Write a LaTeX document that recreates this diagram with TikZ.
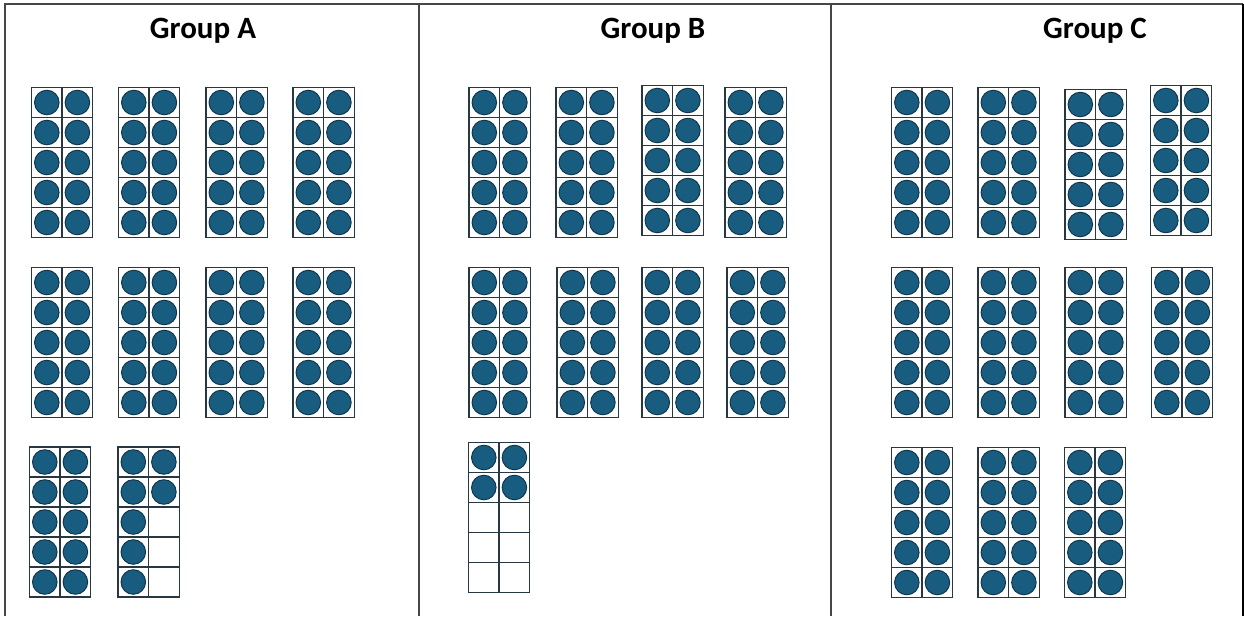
\documentclass[tikz,border=0pt]{standalone}
\usepackage{fontspec}
\setmainfont{Carlito}
\definecolor{dotfill}{RGB}{24,92,128}
\definecolor{dotline}{RGB}{14,50,70}
\definecolor{gridline}{RGB}{40,56,66}
\definecolor{panelline}{RGB}{70,70,70}
\tikzset{
  dot/.style={fill=dotfill,draw=dotline,line width=0.9pt},
  framebox/.style={draw=gridline,line width=1.3pt},
  panel/.style={draw=panelline,line width=2pt},
  title/.style={font=\bfseries\fontsize{31}{35}\selectfont,anchor=base}
}
\def\full{1/1,1/2,2/1,2/2,3/1,3/2,4/1,4/2,5/1,5/2}
\def\seven{1/1,1/2,2/1,2/2,3/1,4/1,5/1}
\def\four{1/1,1/2,2/1,2/2}
\newcommand\tenframe[3]{%
  \begin{scope}[shift={(#1,#2)}]
    \foreach \r/\c in #3 {\path[dot] (\c*30.6-15.3,\r*30-15) circle (12.3);}
    \path[framebox] (0,0) rectangle (61.2,150);
    \path[framebox] (30.6,0) -- (30.6,150);
    \foreach \r in {1,...,4} {\path[framebox] (0,\r*30) -- (61.2,\r*30);}
  \end{scope}}
\begin{document}
\begin{tikzpicture}[x=1pt,y=-1pt]
\useasboundingbox (0,0) rectangle (1244,616);
\fill[white] (0,0) rectangle (1244,616);
% panels
\coordinate (tl) at (4.5,3.5);
\coordinate (tr) at (1242.5,3.5);
\path[panel] (4.5,616) -- (tl) -- (tr);
\draw[black,line width=2pt] (tr) -- (1242.5,616);
\path[panel] (418.5,3.5) -- (418.5,616);
\path[panel] (831,3.5) -- (831,616);
% titles
\node[title] (ta) at (203,38) {Group A};
\node[title] (tb) at (653,38) {Group B};
\node[title] (tc) at (1095,38) {Group C};
% Group A
\tenframe{31.5}{87.5}{\full}
\tenframe{118.5}{87.5}{\full}
\tenframe{206}{87.5}{\full}
\tenframe{293}{87.5}{\full}
\tenframe{31.5}{267.5}{\full}
\tenframe{118.5}{267.5}{\full}
\tenframe{206}{267.5}{\full}
\tenframe{293}{267.5}{\full}
\tenframe{29.5}{447}{\full}
\tenframe{118}{447}{\seven}
% Group B
\tenframe{469}{87.5}{\full}
\tenframe{556}{87.5}{\full}
\tenframe{642}{85.5}{\full}
\tenframe{725}{87.5}{\full}
\tenframe{469}{267.5}{\full}
\tenframe{557}{267.5}{\full}
\tenframe{642}{267.5}{\full}
\tenframe{727}{267.5}{\full}
\tenframe{468.5}{442.5}{\four}
% Group C
\tenframe{891.5}{87.5}{\full}
\tenframe{978}{87.5}{\full}
\tenframe{1065}{89.5}{\full}
\tenframe{1150.5}{85.5}{\full}
\tenframe{891.5}{267.5}{\full}
\tenframe{978}{267.5}{\full}
\tenframe{1065}{267.5}{\full}
\tenframe{1151.5}{267.5}{\full}
\tenframe{891.5}{447.5}{\full}
\tenframe{978}{447.5}{\full}
\tenframe{1064.5}{447.5}{\full}
\end{tikzpicture}
\end{document}
